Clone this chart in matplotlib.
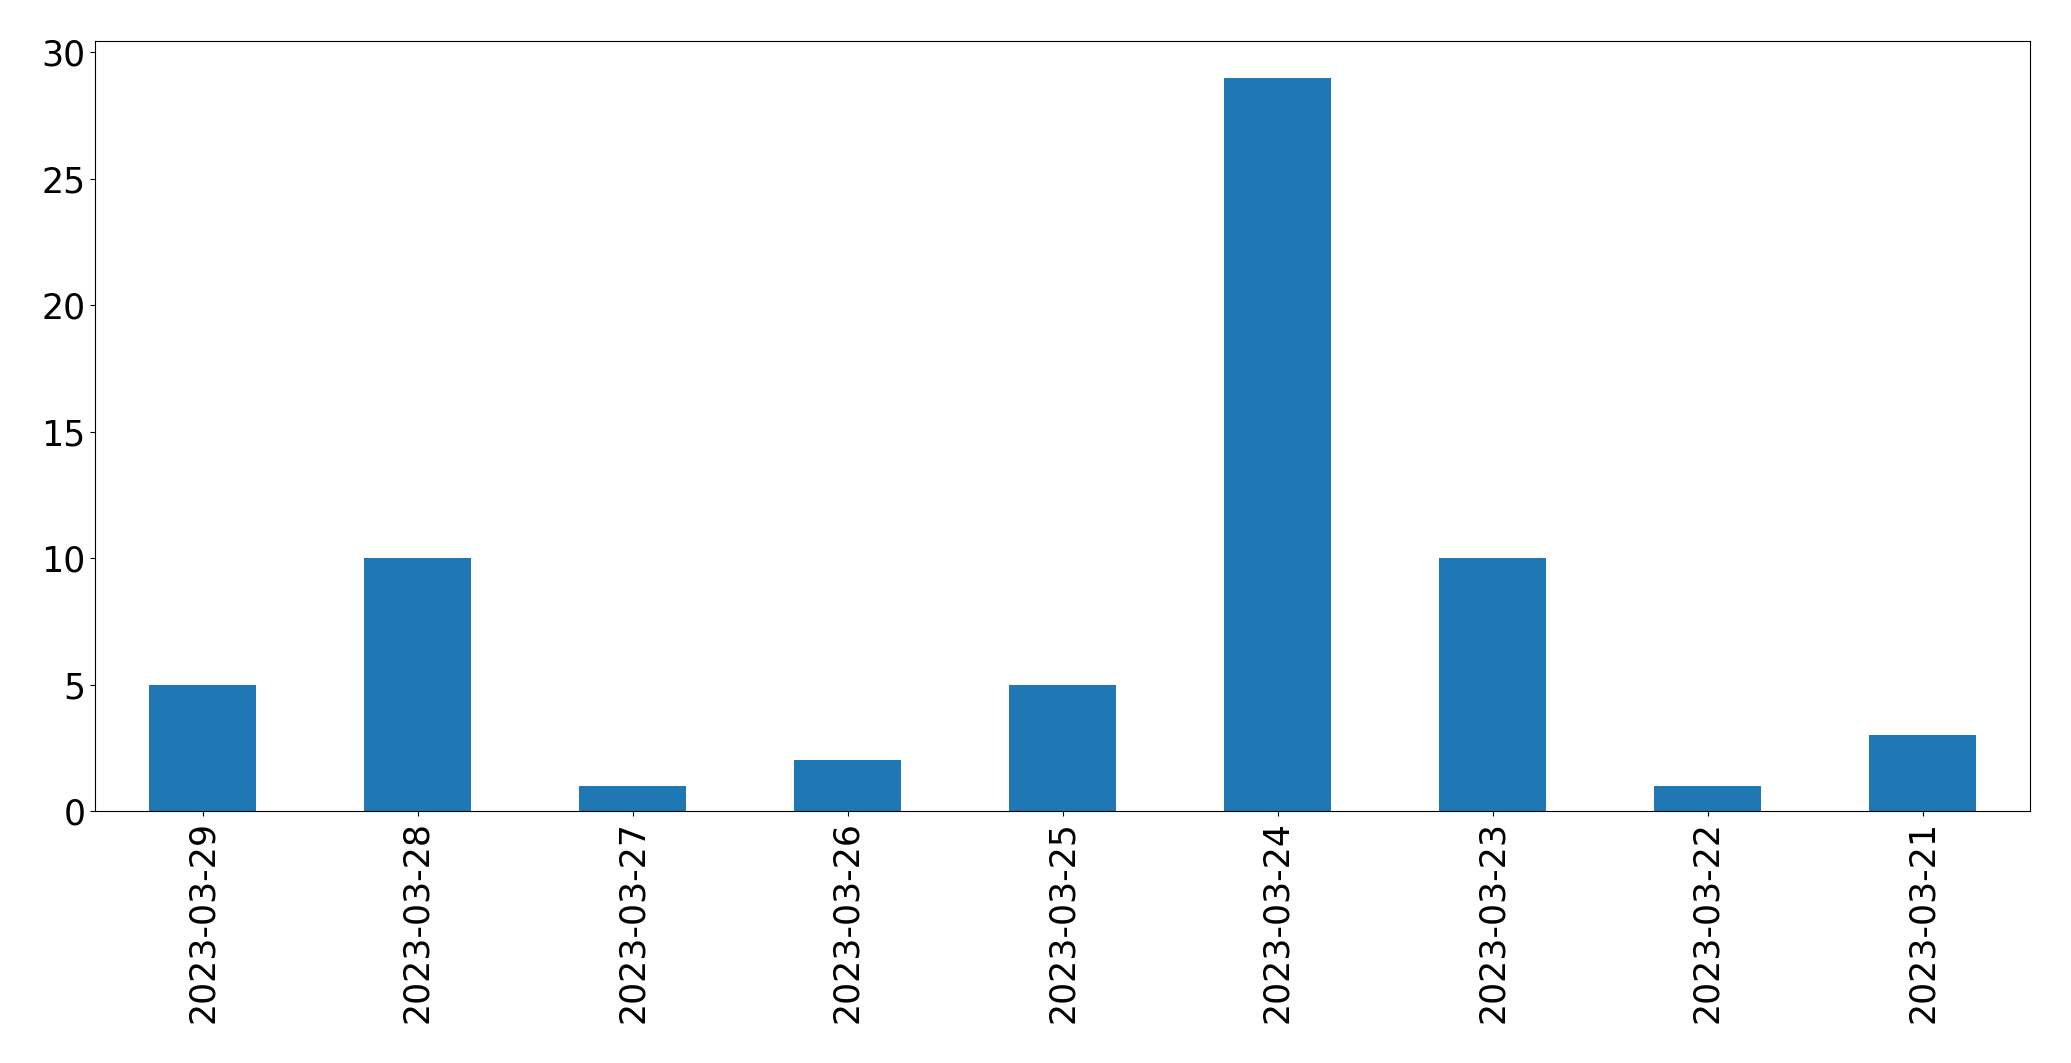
import matplotlib
matplotlib.use("Agg")
import matplotlib.pyplot as plt

dates = ["2023-03-29", "2023-03-28", "2023-03-27", "2023-03-26", "2023-03-25",
         "2023-03-24", "2023-03-23", "2023-03-22", "2023-03-21"]
counts = [5, 10, 1, 2, 5, 29, 10, 1, 3]

fig = plt.figure(figsize=(20.71, 10.63), dpi=100)
ax = fig.add_axes([95/2071, 1 - 811/1063, (2030-95)/2071, (811-41)/1063])
x = range(len(dates))
ax.bar(x, counts, width=0.5, color="#1f77b4")
ax.set_xlim(-0.5, len(dates) - 0.5)
ax.set_ylim(0, 30.45)
ax.set_xticks(list(x))
ax.set_xticklabels(dates, rotation=90)
ax.tick_params(labelsize=25)
fig.savefig("out.png", dpi=100)
